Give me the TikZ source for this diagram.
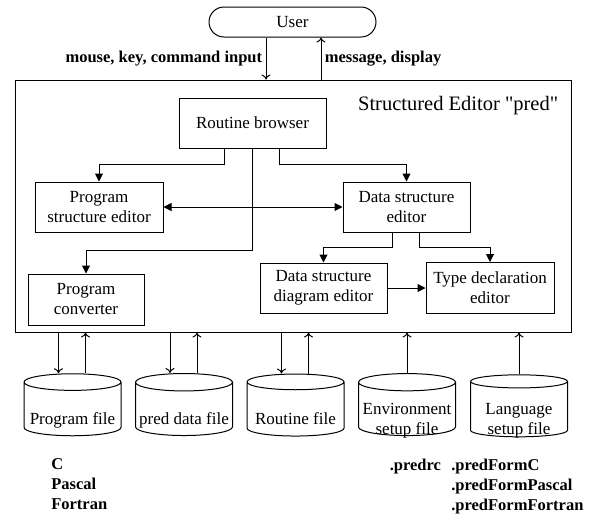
\documentclass[tikz,border=0pt]{standalone}
\usepackage{fontspec}
\setmainfont{Liberation Serif}
\newfontfamily\titlefont{Liberation Serif}
\usetikzlibrary{shapes.geometric,arrows.meta}

% text of a file cylinder, set lower than the middle of the shape
\newcommand{\filetext}[1]{\raisebox{-15pt}[0pt][0pt]{\begin{tabular}{@{}c@{}}#1\end{tabular}}}

\begin{document}
\begin{tikzpicture}[x=1pt, y=-1pt, line width=1pt,
    every node/.style={font=\fontsize{17}{20}\selectfont},
    unit/.style={draw, rectangle, align=center, minimum height=50pt, inner sep=2pt},
    store/.style={draw, cylinder, shape border rotate=90, aspect=0.19,
        minimum width=97pt, minimum height=62pt, inner sep=1pt},
    note/.style={font=\fontsize{16.5}{20}\selectfont\bfseries, align=left},
    flow/.style={-{Triangle[length=8pt,width=8pt]}},
    io/.style={-{To[length=5pt,width=9pt]}}]
    %\draw[lightgray] (0, 0) grid[step=50pt] (597, 515);
    \useasboundingbox (0,0) rectangle (597,515);

    \node[draw, rounded corners=15pt, minimum width=167pt, minimum height=30pt] (user) at (292.5,22) {User};
    \node[draw, minimum width=556pt, minimum height=252pt] (editor) at (293,206) {};
    \node[anchor=east, font=\fontsize{20.5}{24}\titlefont] (title) at (562,106) {Structured Editor "pred"};

    \node[unit, minimum width=147pt] (browser) at (252.5,123) {Routine browser};
    \node[unit, minimum width=128pt] (progedit) at (99,207) {Program\\structure editor};
    \node[unit, minimum width=127pt] (dataedit) at (406.5,207) {Data structure\\editor};
    \node[unit, minimum width=116pt, minimum height=51pt] (conv) at (86,299.5) {Program\\converter};
    \node[unit, minimum width=127pt] (diagedit) at (323.5,288) {Data structure\\diagram editor};
    \node[unit, minimum width=128pt, minimum height=51pt] (typeedit) at (490,288) {Type declaration\\editor};

    % user <-> editor
    \coordinate (cmd) at ([xshift=-26.5pt]user.south);
    \coordinate (msg) at ([xshift=28.5pt]user.south);
    \draw[io] (cmd) -- (cmd |- editor.north) node[midway, left, note] {mouse, key, command input};
    \draw[io] (msg |- editor.north) -- (msg) node[midway, right, note] {message, display};

    % inside the editor
    \draw[flow] ([xshift=-28.5pt]browser.south) -- ++(0,16) -| (progedit.north);
    \draw[flow] (browser.south) -- ++(0,102) -| (conv.north);
    \draw[flow] ([xshift=26.5pt]browser.south) -- ++(0,16) -| (dataedit.north);
    \draw[{Triangle[length=8pt,width=8pt]}-{Triangle[length=8pt,width=8pt]}] (progedit.east) -- (dataedit.west);
    \draw[flow] ([xshift=-14.5pt]dataedit.south) -- ++(0,15) -| (diagedit.north);
    \draw[flow] ([xshift=12.5pt]dataedit.south) -- ++(0,15) -| (typeedit.north);
    \draw[flow] (diagedit.east) -- (typeedit.west);

    % files
    \node[store] (progfile) at (72.5,410) {\filetext{Program file}};
    \node[store] (datafile) at (184,410) {\filetext{pred data file}};
    \node[store] (routfile) at (295.5,410) {\filetext{Routine file}};
    \node[store] (envfile) at (407,410) {\filetext{Environment\\setup file}};
    \node[store] (langfile) at (519,410) {\filetext{Language\\setup file}};

    \foreach \f in {progfile,datafile,routfile} {
        \coordinate (d) at ([xshift=-14pt]\f.north);
        \coordinate (u) at ([xshift=13pt]\f.north);
        \draw[io] (d |- editor.south) -- (d);
        \draw[io] (u) -- (u |- editor.south);
    }
    \foreach \f in {envfile,langfile}
        \draw[io] (\f.north) -- (\f.north |- editor.south);

    \node[note, anchor=north west] (langs) at (47.5,455) {C\\Pascal\\Fortran};
    \node[note, anchor=north west] (rcfile) at (386,455) {.predrc};
    \node[note, anchor=north west] (forms) at (447.5,455) {.predFormC\\.predFormPascal\\.predFormFortran};
\end{tikzpicture}
\end{document}
